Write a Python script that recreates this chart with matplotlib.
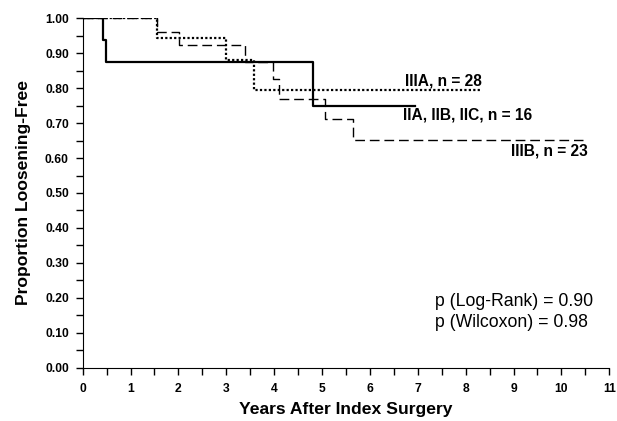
import matplotlib.pyplot as plt
from matplotlib.ticker import MultipleLocator

# ---------- DATA ----------
# step curves: (years, proportion) at each change point, last point = end of follow-up
iia_years = [0, 0.43, 0.49, 4.81, 6.94]
iia_surv = [1.0, 0.9375, 0.875, 0.75, 0.75]

iiia_years = [0, 1.56, 3.0, 3.58, 8.29]
iiia_surv = [1.0, 0.943, 0.88, 0.795, 0.795]

iiib_years = [0, 1.56, 2.01, 3.39, 3.98, 4.10, 5.06, 5.65, 10.45]
iiib_surv = [1.0, 0.96, 0.924, 0.876, 0.825, 0.77, 0.713, 0.653, 0.653]

labels = ["IIA, IIB, IIC, n = 16", "IIIA, n = 28", "IIIB, n = 23"]
pvals = ["p (Log-Rank) = 0.90", "p (Wilcoxon) = 0.98"]

plt.rcParams['font.family'] = ['Liberation Sans', 'DejaVu Sans']

fig = plt.figure(figsize=(6.17, 4.21), dpi=100)
ax = fig.add_axes([0.134, 0.1266, 0.8535, 0.83])

ax.step(iia_years, iia_surv, where="post", color="black", lw=1.6)
ax.step(iiia_years, iiia_surv, where="post", color="black", lw=1.6, linestyle=(0, (1, 1)))
ax.step(iiib_years, iiib_surv, where="post", color="black", lw=1.0, linestyle=(0, (7, 3.5)))

# curve labels
ax.text(8.34, 0.821, labels[1], ha="right", va="center", fontsize=11.2, fontweight="bold")
ax.text(9.38, 0.723, labels[0], ha="right", va="center", fontsize=11.2, fontweight="bold")
ax.text(10.55, 0.621, labels[2], ha="right", va="center", fontsize=11.2, fontweight="bold")

ax.text(7.35, 0.189, pvals[0], ha="left", va="center", fontsize=12.7)
ax.text(7.35, 0.129, pvals[1], ha="left", va="center", fontsize=12.7)

ax.set_xlim(0, 11)
ax.set_ylim(0, 1.0)
ax.xaxis.set_major_locator(MultipleLocator(1))
ax.xaxis.set_minor_locator(MultipleLocator(0.5))
ax.yaxis.set_major_locator(MultipleLocator(0.1))
ax.yaxis.set_minor_locator(MultipleLocator(0.05))
ax.set_yticklabels([f"{v:.2f}" for v in ax.get_yticks()])
ax.tick_params(which="both", direction="out", length=5, width=1, labelsize=8.7)
ax.tick_params(axis="y", pad=5)
ax.tick_params(axis="x", pad=6)
for lab in ax.get_xticklabels() + ax.get_yticklabels():
    lab.set_fontweight("bold")

ax.spines["top"].set_visible(False)
ax.spines["right"].set_visible(False)

ax.set_xlabel("Years After Index Surgery", fontsize=12.6, fontweight="bold", labelpad=5)
ax.set_ylabel("Proportion Loosening-Free", fontsize=12.6, fontweight="bold", labelpad=10)

fig.savefig("out.png", dpi=100)
